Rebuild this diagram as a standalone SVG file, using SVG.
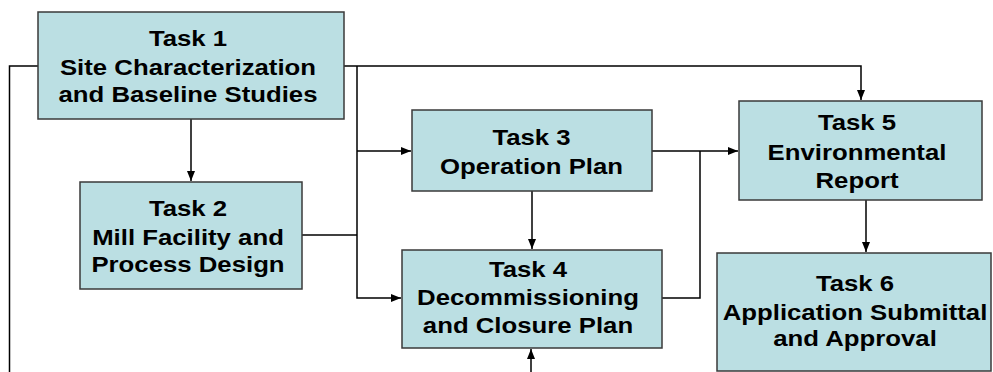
<svg xmlns="http://www.w3.org/2000/svg" width="993" height="372" viewBox="0 0 993 372">
<style>
.box{fill:#BBDFE3;stroke:#3a3a3a;stroke-width:1.5}
.t{font-family:"Liberation Sans",Arial,sans-serif;font-weight:bold;font-size:23px;fill:#000;text-anchor:middle}
.c{fill:none;stroke:#000;stroke-width:1.5}
</style>
<defs>
<marker id="ah" markerWidth="10" markerHeight="8" refX="10" refY="4" orient="auto" markerUnits="userSpaceOnUse">
<path d="M0,0 L10,4 L0,8 Z" fill="#000"/>
</marker>
</defs>
<g id="connectors">
<path class="c" d="M38,66 H9.5 V372"/>
<path class="c" d="M344,66 H861 V100" marker-end="url(#ah)"/>
<path class="c" d="M357,66 V298 H401" marker-end="url(#ah)"/>
<path class="c" d="M357,151 H411" marker-end="url(#ah)"/>
<path class="c" d="M302,235 H357"/>
<path class="c" d="M191,119 V181" marker-end="url(#ah)"/>
<path class="c" d="M532,191 V249" marker-end="url(#ah)"/>
<path class="c" d="M652,151 H738" marker-end="url(#ah)"/>
<path class="c" d="M662,298 H700 V151"/>
<path class="c" d="M866,200 V252" marker-end="url(#ah)"/>
<path class="c" d="M531,372 V349" marker-end="url(#ah)"/>
</g>
<g id="task1">
<rect class="box" x="38" y="12" width="306" height="107"/>
<text class="t" transform="matrix(1.12 0 0 1 188 0)"><tspan x="0" y="46.5">Task 1</tspan><tspan x="0" y="75">Site Characterization</tspan><tspan x="0" y="102">and Baseline Studies</tspan></text>
</g>
<g id="task2">
<rect class="box" x="80" y="182" width="222" height="107"/>
<text class="t" transform="matrix(1.12 0 0 1 188 0)"><tspan x="0" y="216.5">Task 2</tspan><tspan x="0" y="245">Mill Facility and</tspan><tspan x="0" y="272">Process Design</tspan></text>
</g>
<g id="task3">
<rect class="box" x="412" y="110" width="240" height="81"/>
<text class="t" transform="matrix(1.12 0 0 1 531.5 0)"><tspan x="0" y="145">Task 3</tspan><tspan x="0" y="174">Operation Plan</tspan></text>
</g>
<g id="task4">
<rect class="box" x="402" y="250" width="260" height="98"/>
<text class="t" transform="matrix(1.12 0 0 1 528 0)"><tspan x="0" y="277.5">Task 4</tspan><tspan x="0" y="305">Decommissioning</tspan><tspan x="0" y="333">and Closure Plan</tspan></text>
</g>
<g id="task5">
<rect class="box" x="739" y="101" width="243" height="99"/>
<text class="t" transform="matrix(1.12 0 0 1 857 0)"><tspan x="0" y="130.5">Task 5</tspan><tspan x="0" y="160">Environmental</tspan><tspan x="0" y="188">Report</tspan></text>
</g>
<g id="task6">
<rect class="box" x="717" y="253" width="274" height="118"/>
<text class="t" transform="matrix(1.12 0 0 1 855 0)"><tspan x="0" y="291.5">Task 6</tspan><tspan x="0" y="320">Application Submittal</tspan><tspan x="0" y="346.5">and Approval</tspan></text>
</g>
</svg>
